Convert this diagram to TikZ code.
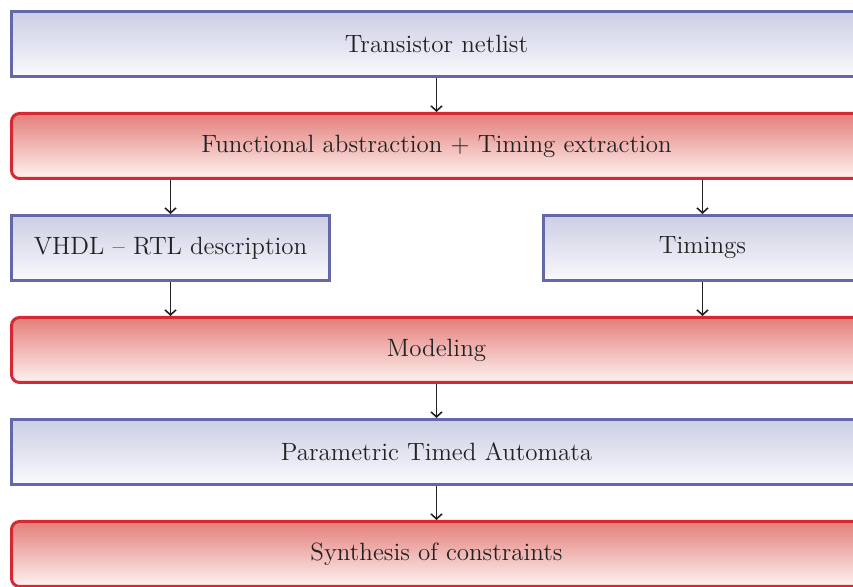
\documentclass[tikz,border=0pt]{standalone}
\usepackage{tikz}
\usepackage{xcolor}
\usetikzlibrary{positioning, arrows.meta}

\definecolor{blueline}{RGB}{100,104,168}
\definecolor{bluetop}{RGB}{204,206,228}
\definecolor{bluebot}{RGB}{249,249,253}
\definecolor{redline}{RGB}{214,40,50}
\definecolor{redtop}{RGB}{228,126,122}
\definecolor{redbot}{RGB}{253,243,241}
\definecolor{textgray}{RGB}{34,34,34}

\begin{document}
\begin{tikzpicture}[
    >={Straight Barb[length=2.5pt, width=5.5pt]},
    node distance=17pt,
    every node/.style={font=\fontsize{12.5}{15}\selectfont, text=textgray},
    bluebox/.style={
        draw=blueline, line width=1.5pt,
        top color=bluetop, bottom color=bluebot,
        minimum width=425pt, minimum height=32.5pt, inner sep=0pt
    },
    redbox/.style={
        bluebox, draw=redline, top color=redtop, bottom color=redbot,
        rounded corners=4pt
    },
    smallbox/.style={bluebox, minimum width=159pt},
    arrow/.style={->, line width=0.8pt, draw=textgray},
]

\path[use as bounding box, clip] (0,0) rectangle (426.5pt,-293.5pt);

% --- netlist and abstraction ---
\node[bluebox, anchor=north west] (net) at (5pt,-5pt) {Transistor netlist};
\node[redbox, below=of net] (func) {Functional abstraction + Timing extraction};
\draw[arrow] (net) -- (func);

% --- the two outputs ---
\node[smallbox, below right=17pt and 0pt of func.south west] (vhdl) {VHDL -- RTL description};
\node[smallbox, below left=17pt and 0pt of func.south east] (tim) {Timings};
\draw[arrow] (func.south -| vhdl) -- (vhdl);
\draw[arrow] (func.south -| tim) -- (tim);

% --- modeling ---
\node[redbox, anchor=north] (model) at ([yshift=-17pt]vhdl.south -| func) {Modeling};
\draw[arrow] (vhdl) -- (vhdl |- model.north);
\draw[arrow] (tim) -- (tim |- model.north);

% --- automata and synthesis ---
\node[bluebox, below=of model] (pta) {Parametric Timed Automata};
\node[redbox, below=of pta] (synth) {Synthesis of constraints};
\draw[arrow] (model) -- (pta);
\draw[arrow] (pta) -- (synth);

\end{tikzpicture}
\end{document}
